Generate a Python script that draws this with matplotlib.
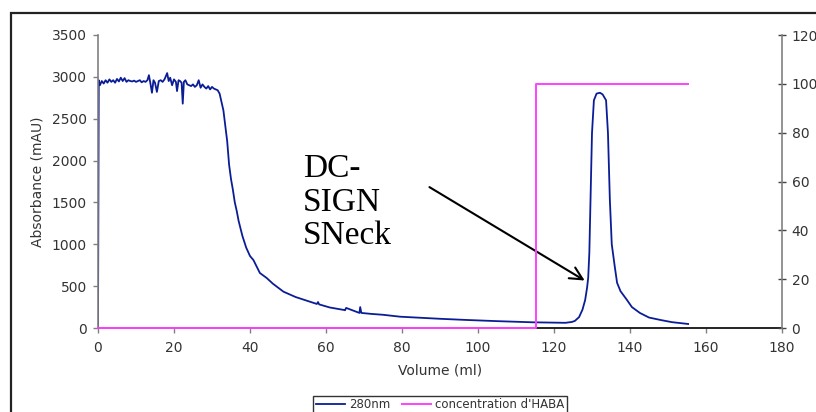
import numpy as np
import matplotlib
matplotlib.use("Agg")
import matplotlib.pyplot as plt
from matplotlib.patches import Rectangle

# 280 nm absorbance trace (volume in ml, mAU)
vol_280 = [0.0, 0.2, 0.5, 1.0, 1.5, 2.0, 2.5, 3.0, 3.5, 4.0, 4.5, 5.0, 5.5, 6.0, 6.5,
           7.0, 7.5, 8.0, 8.5, 9.0, 9.5, 10.0, 10.5, 11.0, 11.5, 12.0, 12.5, 13.0, 13.4,
           13.8, 14.2, 14.6, 15.0, 15.5, 16.0, 16.5, 17.0, 17.5, 18.2, 18.6, 19.0, 19.5,
           20.0, 20.5, 20.8, 21.2, 21.6, 22.0, 22.3, 22.6, 23.0, 23.5, 24.0, 24.5, 25.0,
           25.5, 26.0, 26.5, 27.0, 27.5, 28.0, 28.5, 29.0, 29.5, 30.0, 30.5, 31.0, 31.5,
           32.0, 32.5, 33.0, 33.5, 34.0, 34.5, 35.0, 35.5, 36.0, 36.5, 37.0, 38.0, 39.0,
           40.0, 40.9, 42.6, 44.4, 46.0, 48.8, 52.0, 55.0, 57.6, 57.9, 58.2, 61.0, 64.8,
           65.0, 65.3, 68.8, 69.0, 69.3, 72.0, 75.0, 79.5, 85.0, 90.0, 97.0, 105.0, 110.0,
           114.5, 120.0, 123.0, 124.7, 125.5, 126.6, 127.5, 128.2, 128.7, 129.0, 129.3,
           129.6, 130.0, 130.5, 131.2, 132.1, 132.8, 133.7, 134.2, 134.7, 135.2, 136.0,
           136.6, 137.5, 139.2, 140.5, 142.6, 145.0, 148.0, 151.0, 155.3]
abs_280 = [0, 2960, 2900, 2950, 2920, 2960, 2930, 2970, 2940, 2960, 2930, 2975, 2945, 2990,
           2950, 2985, 2940, 2960, 2950, 2945, 2955, 2940, 2950, 2960, 2935, 2950, 2940,
           2960, 3020, 2920, 2810, 2960, 2930, 2820, 2950, 2960, 2940, 2970, 3045, 2950,
           2990, 2900, 2970, 2940, 2830, 2960, 2950, 2930, 2680, 2940, 2960, 2910, 2900,
           2890, 2910, 2880, 2900, 2960, 2870, 2910, 2880, 2860, 2890, 2850, 2880, 2860,
           2850, 2840, 2800, 2700, 2600, 2420, 2230, 1950, 1780, 1650, 1500, 1400, 1280,
           1100, 960, 860, 812, 657, 597, 530, 434, 370, 325, 287, 310, 282, 245, 215,
           212, 240, 180, 250, 180, 168, 158, 135, 122, 110, 96, 82, 75, 68, 64, 62, 72,
           85, 130, 220, 335, 480, 600, 900, 1530, 2330, 2720, 2800, 2810, 2790, 2720,
           2330, 1530, 1000, 730, 540, 440, 335, 250, 180, 125, 96, 70, 48]

# HABA concentration step (right axis)
vol_haba = [0.0, 115.3, 115.3, 155.3]
conc_haba = [0, 0, 100, 100]

x_ticks = [0, 20, 40, 60, 80, 100, 120, 140, 160, 180]
left_ticks = [0, 500, 1000, 1500, 2000, 2500, 3000, 3500]
right_ticks = [0, 20, 40, 60, 80, 100, 120]

annot_text = "DC-\nSIGN\nSNeck"
annot_tip = (128.7, 550)
annot_from = (86.6, 1700)
annot_pos = (54.0, 2080)

blue = "#0b1d96"
magenta = "#ff40ff"
gray = "#808080"
txt = "#333333"

fig = plt.figure(figsize=(8.16, 4.12), dpi=100)
fig.patches.append(Rectangle((11 / 816, -0.2), 1.2, 0.2 + 1 - 13 / 412, transform=fig.transFigure,
                             fill=False, edgecolor="#222222", lw=1.6))

ax = fig.add_axes([98 / 816, 1 - 328 / 412, 684 / 816, 293 / 412])
ax2 = ax.twinx()

l1, = ax.plot(vol_280, abs_280, color=blue, lw=1.3, label="280nm")
l2, = ax2.plot(vol_haba, conc_haba, color=magenta, lw=1.4, label="concentration d'HABA",
               clip_on=False, zorder=5)

ax.set_xlim(0, 180)
ax.set_ylim(0, 3500)
ax2.set_ylim(0, 120)
ax.set_xticks(x_ticks)
ax.set_yticks(left_ticks)
ax2.set_yticks(right_ticks)

for a in (ax, ax2):
    a.spines["top"].set_visible(False)
    a.patch.set_visible(False)
ax.spines["right"].set_visible(False)
ax2.spines["left"].set_visible(False)
ax2.spines["bottom"].set_visible(False)
ax.spines["left"].set_color(gray)
ax.spines["left"].set_linewidth(1.2)
ax.spines["bottom"].set_color("black")
ax.spines["bottom"].set_linewidth(1.2)
ax2.spines["right"].set_color(gray)
ax2.spines["right"].set_linewidth(1.2)

ax.tick_params(axis="y", direction="out", length=3.6, width=1, color=gray,
               labelsize=10, labelcolor=txt, pad=4.5)
ax.tick_params(axis="x", direction="out", length=3.6, width=1, color=gray,
               labelsize=10, labelcolor=txt, pad=6)
ax2.tick_params(axis="y", direction="inout", length=5.8, width=1, color="#444444",
                labelsize=10, labelcolor=txt, pad=4)

ax.set_ylabel("Absorbance (mAU)", fontsize=10, color=txt, labelpad=5)
ax.set_xlabel("Volume (ml)", fontsize=10, color=txt, labelpad=6)

ax.annotate("", xy=annot_tip, xytext=annot_from,
            arrowprops=dict(arrowstyle="->,head_length=0.9,head_width=0.45", color="black", lw=1.5))
ax.text(annot_pos[0], annot_pos[1], annot_text, fontsize=24, family="Liberation Serif",
        va="top", ha="left", linespacing=1.12, color="black")

leg = fig.legend([l1, l2], ["280nm", "concentration d'HABA"], loc="upper center",
                 bbox_to_anchor=(440 / 816, 1 - 396 / 412), ncol=2, fontsize=8.5,
                 frameon=True, fancybox=False, edgecolor="black", handlelength=2.5,
                 handletextpad=0.3, columnspacing=1.0, borderpad=0.2, borderaxespad=0)
leg.get_frame().set_linewidth(1.0)
for t in leg.get_texts():
    t.set_color(txt)

fig.savefig("out.png", dpi=100)
